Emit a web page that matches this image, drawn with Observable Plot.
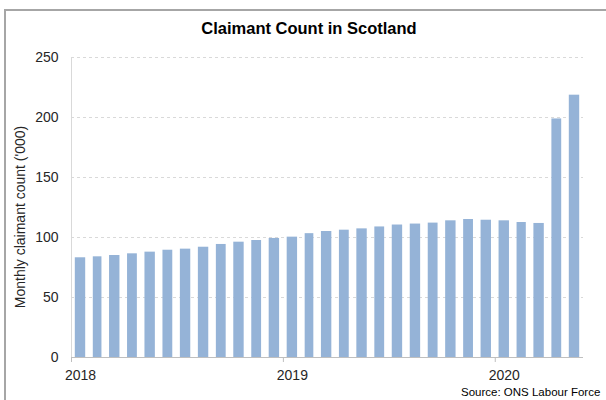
<!DOCTYPE html>
<html>
<head>
<meta charset="utf-8">
<script src="https://cdn.jsdelivr.net/npm/d3@7"></script>
<script src="https://cdn.jsdelivr.net/npm/@observablehq/plot@0.6"></script>
<style>
html, body { margin: 0; padding: 0; background: #fff; width: 606px; height: 400px; overflow: hidden; font-family: "Liberation Sans", Arial, sans-serif; }
#wrap { position: relative; width: 606px; height: 400px; overflow: hidden; }
#frame { position: absolute; left: 4px; top: 9px; width: 700px; height: 500px; border-left: 2px solid #a6a6a6; border-top: 2px solid #a6a6a6; }
#chart { position: absolute; left: 0; top: 0; }
#title { position: absolute; left: 9px; width: 600px; top: 20px; line-height: 16.5px; text-align: center; font-weight: bold; font-size: 16.5px; color: #000; white-space: nowrap; }
#source { position: absolute; left: 461px; top: 387px; line-height: 11.5px; font-size: 11.5px; color: #000; white-space: nowrap; }
</style>
</head>
<body>
<div id="wrap">
  <div id="frame"></div>
  <div id="chart"></div>
  <div id="title">Claimant Count in Scotland</div>
  <div id="source">Source: ONS Labour Force</div>
</div>
<script>
// Months (categories)
const months = [
  "2018-01","2018-02","2018-03","2018-04","2018-05","2018-06","2018-07","2018-08","2018-09","2018-10","2018-11","2018-12",
  "2019-01","2019-02","2019-03","2019-04","2019-05","2019-06","2019-07","2019-08","2019-09","2019-10","2019-11","2019-12",
  "2020-01","2020-02","2020-03","2020-04","2020-05"
];
// Monthly claimant count ('000)
const values = [
  83.1, 83.9, 85.0, 86.4, 87.8, 89.4, 90.3, 91.9, 94.2, 96.1, 97.5, 99.2,
  100.3, 103.2, 105.0, 106.1, 107.2, 108.8, 110.4, 111.2, 112.0, 113.9, 115.0, 114.4,
  113.9, 112.5, 111.7, 198.8, 218.6
];
// Tick labels
const yTicks = [0, 50, 100, 150, 200, 250];
const yearLabels = ["2018", "2019", "2020"];
const yLabel = "Monthly claimant count ('000)";

const parseMonth = d3.utcParse("%Y-%m");
const parseYear = d3.utcParse("%Y");
const data = months.map((m, i) => ({date: parseMonth(m), value: values[i]}));
const xStart = parseMonth(months[0]);
const xEnd = d3.utcMonth.offset(parseMonth(months[months.length - 1]), 1);
const yearTicks = yearLabels.map(parseYear);
const yearLabelPos = yearTicks.map(d => new Date((+d + +d3.utcMonth.offset(d, 1)) / 2));

const chart = Plot.plot({
  width: 606,
  height: 400,
  marginLeft: 71,
  marginRight: 23,
  marginTop: 57,
  marginBottom: 43,
  style: {background: "transparent", fontFamily: "'Liberation Sans', Arial, sans-serif", fontSize: "14px", color: "#262626", overflow: "visible"},
  x: {type: "utc", domain: [xStart, xEnd], axis: null},
  y: {domain: [0, 250], axis: null},
  marks: [
    Plot.ruleY(yTicks.filter(v => v > 0), {stroke: "#d9d9d9", strokeDasharray: "3,3"}),
    Plot.ruleX([xStart], {stroke: "#d9d9d9"}),
    Plot.rectY(data, {x: "date", y: "value", interval: "month", fill: "#95b3d7", insetLeft: 3.8, insetRight: 3.8}),
    Plot.ruleY([0], {stroke: "#bfbfbf"}),
    Plot.axisY({ticks: yTicks, tickSize: 0, tickPadding: 13, label: null, fontSize: 14}),
    Plot.axisX({ticks: yearTicks, tickSize: 5, tickFormat: () => "", stroke: "#bfbfbf", label: null}),
    Plot.axisX({ticks: yearLabelPos, tickSize: 0, tickPadding: 13, tickFormat: d3.utcFormat("%Y"), label: null, fontSize: 14}),
    Plot.text([yLabel], {frameAnchor: "left", textAnchor: "middle", rotate: -90, dx: -50.5, dy: 9.5, fontSize: 14, fill: "#262626"})
  ]
});
document.getElementById("chart").appendChild(chart);
</script>
</body>
</html>
